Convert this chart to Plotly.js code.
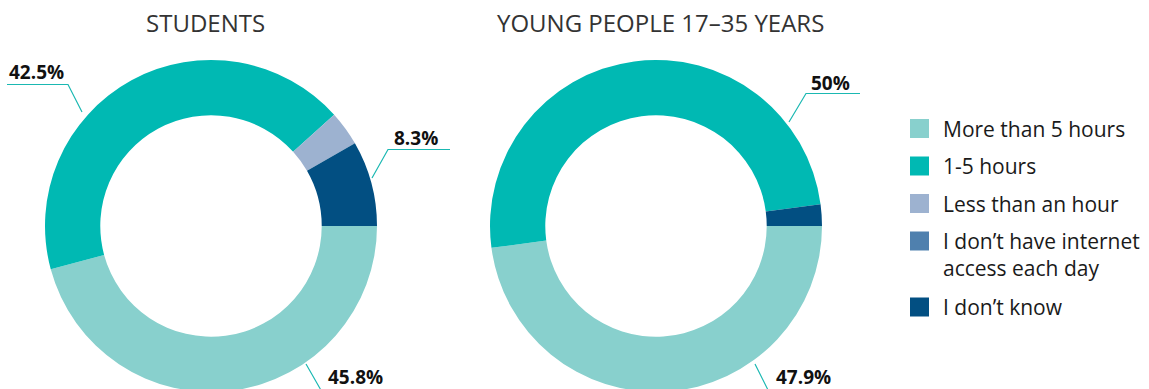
<!DOCTYPE html>
<html><head><meta charset="utf-8">
<script src="https://cdn.plot.ly/plotly-3.0.1.min.js"></script>
<style>html,body{margin:0;padding:0;overflow:hidden;background:#fff}#chart{width:1149px;height:400px}</style>
</head><body><div id="chart"></div>
<script>
// ---- data ----
const categories = ['More than 5 hours', '1-5 hours', 'Less than an hour', 'I don’t have internet\naccess each day', 'I don’t know'];
const students = [45.8, 42.5, 3.4, 0, 8.3];
const youngPeople = [47.9, 50, 0, 0, 2.1];
const chartTitles = ['STUDENTS', 'YOUNG PEOPLE 17–35 YEARS'];
const colors = ['#88d0cd', '#00b9b3', '#9db2d0', '#4f80ae', '#024f82'];

// ---- layout helpers ----
const W = 1149, H = 400;
const fx = x => x / W, fy = y => 1 - y / H;
function domain(cx, cy, r) { return { x: [fx(cx - r), fx(cx + r)], y: [fy(cy + r), fy(cy - r)] }; }

const pies = [
  { values: students, cx: 211, cy: 226, r: 166, titleX: 205,
    labels: [ // which slice, text position, leader path
      { i: 1, tx: 36, ty: 72, path: [[7, 84.5], [68, 84.5], [82, 112]] },
      { i: 4, tx: 416, ty: 137.5, path: [[450, 149.5], [388, 149.5], [372, 178]] },
      { i: 0, tx: 355, ty: 377, path: [[306, 364], [322, 392], [390, 392]] }
    ] },
  { values: youngPeople, cx: 656, cy: 226, r: 166, titleX: 660,
    labels: [
      { i: 1, tx: 830, ty: 82.5, path: [[860, 93.5], [806, 93.5], [789, 122]] },
      { i: 0, tx: 803, ty: 377, path: [[755, 364], [769, 392], [840, 392]] }
    ] }
];

const hoverLabels = categories.map(c => c.replace('\n', ' '));
const data = pies.map(p => ({
  type: 'pie', values: p.values, labels: hoverLabels, sort: false,
  direction: 'clockwise', rotation: 90, hole: 0.667,
  marker: { colors: colors, line: { width: 0 } },
  textinfo: 'none', hoverinfo: 'label+value', showlegend: false,
  domain: domain(p.cx, p.cy, p.r)
}));

const annotations = [];
const shapes = [];
pies.forEach((p, k) => {
  annotations.push({ xref: 'paper', yref: 'paper', x: fx(p.titleX), y: fy(22), text: chartTitles[k],
    showarrow: false, xanchor: 'center', yanchor: 'middle',
    font: { family: 'Open Sans', size: 24, color: '#333333' } });
  p.labels.forEach(l => {
    annotations.push({ xref: 'paper', yref: 'paper', x: fx(l.tx), y: fy(l.ty), text: p.values[l.i] + '%',
      showarrow: false, xanchor: 'center', yanchor: 'middle', borderpad: 0,
      font: { family: 'Open Sans', size: 19, weight: 700, color: '#111111' } });
    shapes.push({ type: 'path', xref: 'paper', yref: 'paper',
      path: 'M' + l.path.map(pt => fx(pt[0]) + ',' + fy(pt[1])).join('L'),
      line: { color: '#1ab8b2', width: 1.2 } });
  });
});

// manual legend
let ly = 128.5;
categories.forEach((c, i) => {
  shapes.push({ type: 'rect', xref: 'paper', yref: 'paper',
    x0: fx(910), x1: fx(929), y0: fy(ly - 9.5), y1: fy(ly + 9.5),
    fillcolor: colors[i], line: { width: 0 } });
  const lines = c.split('\n');
  lines.forEach((t, j) => {
    annotations.push({ xref: 'paper', yref: 'paper', x: fx(941), y: fy(ly + j * 27), text: t,
      showarrow: false, xanchor: 'left', yanchor: 'middle',
      font: { family: 'Open Sans', size: 21, color: '#1a1a1a' } });
  });
  ly += 37.5 + (lines.length - 1) * 28.5;
});

const layout = {
  width: W, height: H, margin: { l: 0, r: 0, t: 0, b: 0 },
  paper_bgcolor: '#ffffff', plot_bgcolor: '#ffffff',
  showlegend: false, annotations: annotations, shapes: shapes
};
Plotly.newPlot('chart', data, layout, { displayModeBar: false, staticPlot: false });
</script>
</body></html>
